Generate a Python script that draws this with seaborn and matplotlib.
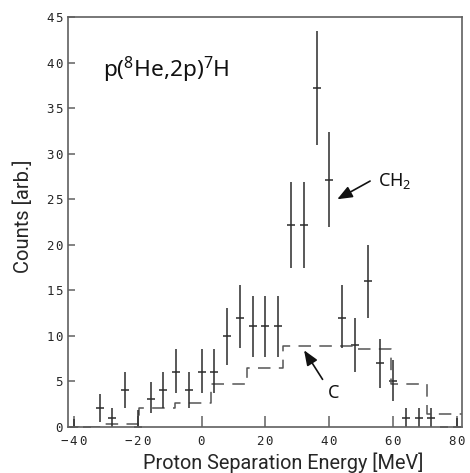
import numpy as np
import pandas as pd
import matplotlib
matplotlib.use("Agg")
import matplotlib.pyplot as plt
import seaborn as sns

# ---- data -------------------------------------------------------------
# CH2 target: proton separation energy bins, counts and asymmetric errors
ch2_energy = [-40, -36, -32, -28, -24, -20, -16, -12, -8, -4, 0, 4, 8, 12, 16, 20,
              24, 28, 32, 36, 40, 44, 48, 52, 56, 60, 64, 68, 72, 76, 80]
ch2_counts = [0, 0, 2, 1, 4, 0, 3, 4, 6, 4, 6, 6, 10, 12, 11.1, 11.1,
              11.1, 22.2, 22.2, 37.2, 27.1, 12, 9, 16, 7, 5, 1, 1, 1, 0, 0]
ch2_err_low = [0, 0, 1.45, 1.0, 2.0, 0, 1.5, 2.0, 2.25, 2.0, 2.25, 2.25, 3.2, 3.4, 3.4, 3.4,
               3.4, 4.8, 4.8, 6.2, 5.2, 3.4, 3.0, 4.0, 2.7, 2.2, 1.0, 1.0, 1.0, 0, 0]
ch2_err_high = [0.9, 0, 1.6, 1.0, 2.0, 1.8, 1.9, 2.0, 2.55, 2.0, 2.55, 2.55, 3.1, 3.6, 3.3, 3.3,
                3.3, 4.7, 4.7, 6.3, 5.3, 3.6, 3.0, 4.0, 2.6, 2.3, 1.0, 1.0, 1.0, 0, 1.0]

# Carbon target: histogram (bin edges and contents)
c_edges = [-42.3, -31.0, -19.7, -8.4, 2.9, 14.2, 25.5, 36.8, 48.1, 59.4, 70.7, 82.0]
c_counts = [0, 0.35, 2.03, 2.65, 4.7, 6.45, 8.85, 8.85, 8.55, 4.7, 1.37]

x_ticks = [-40, -20, 0, 20, 40, 60, 80]
y_ticks = [0, 5, 10, 15, 20, 25, 30, 35, 40, 45]

reaction_label = r"p($^{8}$He,2p)$^{7}$H"
ch2_label = r"CH$_{2}$"
c_label = "C"
x_label = "Proton Separation Energy [MeV]"
y_label = "Counts [arb.]"

# ---- style ------------------------------------------------------------
sns.set_style("white")
plt.rcParams["font.family"] = ["Noto Sans", "DejaVu Sans"]
plt.rcParams["mathtext.fontset"] = "custom"
plt.rcParams["mathtext.rm"] = "Noto Sans"
plt.rcParams["mathtext.tt"] = "DejaVu Sans Mono"
plt.rcParams["mathtext.default"] = "regular"
plt.rcParams["lines.scale_dashes"] = False

spine_col = "#606060"
bar_col = "#2b2b2b"
c_col = "#555555"


def spaced(v):
    s = str(v)
    return "$" + r"\,".join(r"\mathtt{%s}" % ch for ch in s) + "$"


fig = plt.figure(figsize=(4.70, 4.73), dpi=100)
ax = fig.add_axes([0.1447, 0.0979, 0.9836 - 0.1447, 0.9634 - 0.0979])

# Carbon histogram as dashed step line
c_df = pd.DataFrame({"E": c_edges, "N": c_counts + [c_counts[-1]]})
sns.lineplot(data=c_df, x="E", y="N", ax=ax, drawstyle="steps-post",
             color=c_col, linewidth=1.1, linestyle=(0, (9, 6)), legend=False,
             estimator=None, sort=False)

# CH2 data with error bars and centre ticks
ax.errorbar(ch2_energy, ch2_counts, yerr=[ch2_err_low, ch2_err_high], fmt="none",
            ecolor=bar_col, elinewidth=1.1, capsize=0)
sns.scatterplot(x=ch2_energy, y=ch2_counts, ax=ax, marker="_", s=28,
                color=bar_col, linewidth=1.1, legend=False)

ax.set_xlim(-41.9, 81.7)
ax.set_ylim(0, 45)

ax.set_xticks(x_ticks, [spaced(t) for t in x_ticks])
ax.set_yticks(y_ticks, [spaced(t) for t in y_ticks])
ax.tick_params(axis="x", direction="in", length=8, width=1.1, color=spine_col,
               labelsize=9, pad=6, bottom=True)
ax.tick_params(axis="y", direction="in", length=5, width=1.1, color=spine_col,
               labelsize=9, pad=3, left=True)
for sp in ax.spines.values():
    sp.set_color(spine_col)
    sp.set_linewidth(1.2)

ax.set_xlabel(x_label, fontsize=14.3, family=["Roboto", "DejaVu Sans"])
ax.set_ylabel(y_label, fontsize=14.5, family=["Roboto", "DejaVu Sans"])
ax.xaxis.set_label_coords(0.545, -0.062)
ax.yaxis.set_label_coords(-0.088, 0.513)

ax.text(-30.9, 38.4, reaction_label, fontsize=16.3, va="baseline", ha="left", color="#111111")

arrow = dict(arrowstyle="-|>,head_length=0.9,head_width=0.36", color="#111111",
             lw=1.2, shrinkA=0, shrinkB=0, mutation_scale=10)
ax.annotate("", xy=(42.5, 25.0), xytext=(52.8, 27.0), arrowprops=arrow)
ax.text(55.3, 27.0, ch2_label, fontsize=13, va="center", ha="left", color="#111111")
ax.annotate("", xy=(32.1, 8.4), xytext=(37.9, 5.2), arrowprops=arrow)
ax.text(41.5, 3.7, c_label, fontsize=13, va="center", ha="center", color="#111111")

fig.savefig("out.png", dpi=100)
